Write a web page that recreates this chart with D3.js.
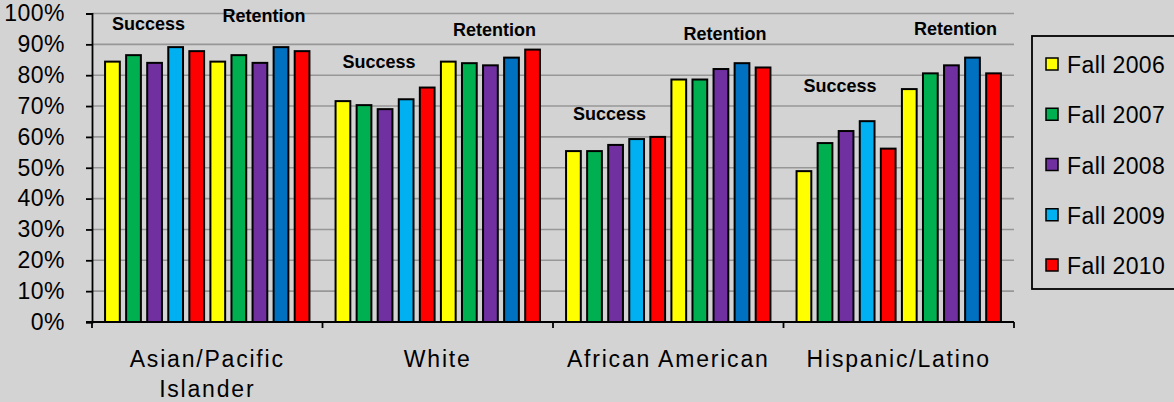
<!DOCTYPE html>
<html>
<head>
<meta charset="utf-8">
<script src="https://cdn.jsdelivr.net/npm/d3@7"></script>
<style>
  html, body { margin: 0; padding: 0; background: #d3d3d3; }
  svg { display: block; font-family: "Liberation Sans", Arial, sans-serif; }
</style>
</head>
<body>
<svg id="chart" width="1174" height="402"></svg>
<script>
// ---- data ----
const categories = ["Asian/Pacific Islander", "White", "African American", "Hispanic/Latino"];
const categoryLines = [["Asian/Pacific", "Islander"], ["White"], ["African American"], ["Hispanic/Latino"]];
const years = ["Fall 2006", "Fall 2007", "Fall 2008", "Fall 2009", "Fall 2010"];
// success rates (%) per category, Fall 2006..2010
const successValues = [
  [84.4, 86.5, 84.0, 89.1, 87.8],
  [71.6, 70.3, 69.0, 72.2, 76.0],
  [55.4, 55.4, 57.4, 59.3, 60.0],
  [48.9, 58.0, 61.9, 65.1, 56.2]
];
// retention rates (%) per category, Fall 2006..2010
const retentionValues = [
  [84.4, 86.5, 84.0, 89.1, 87.8],
  [84.4, 83.9, 83.2, 85.7, 88.3],
  [78.6, 78.6, 82.0, 83.9, 82.5],
  [75.5, 80.6, 83.2, 85.7, 80.6]
];
// heights (in %) at which the group annotations sit
const successLabelAt = [94.8, 82.2, 65.5, 74.4];
const retentionLabelAt = [97.4, 92.6, 91.3, 92.9];
const yTicks = [0, 10, 20, 30, 40, 50, 60, 70, 80, 90, 100];
const successColors = ["#FFFF00", "#00B050", "#7030A0", "#00B0F0", "#FF0000"];
const retentionColors = ["#FFFF00", "#00B050", "#7030A0", "#0070C0", "#FF0000"];

// ---- layout ----
const svg = d3.select("#chart");
const plotLeft = 92, plotRight = 1014, plotTop = 13.5, plotBottom = 322;

const x0 = d3.scaleBand().domain(categories).range([plotLeft, plotRight]).paddingInner(0).paddingOuter(0);
const x1 = d3.scaleBand().domain(d3.range(10)).range([0, x0.bandwidth()]).paddingInner(0.3).paddingOuter(0.62);
const y = d3.scaleLinear().domain([0, 100]).range([plotBottom, plotTop]);

// gridlines
svg.append("g").selectAll("line").data(yTicks.filter(t => t > 0)).join("line")
  .attr("x1", plotLeft).attr("x2", plotRight)
  .attr("y1", d => y(d)).attr("y2", d => y(d))
  .attr("stroke", "#979797").attr("stroke-width", 1.6);

// y axis
const yAxis = svg.append("g").attr("transform", `translate(${plotLeft},0)`)
  .call(d3.axisLeft(y).tickValues(yTicks).tickSize(6).tickPadding(21).tickFormat(d => d + "%"));
yAxis.select(".domain").attr("stroke", "#000").attr("stroke-width", 1.8);
yAxis.selectAll(".tick line").attr("stroke", "#000").attr("stroke-width", 1.8);
yAxis.selectAll(".tick text").attr("fill", "#000").style("font-size", "23px")
  .style("letter-spacing", "0.5px").attr("font-family", "Liberation Sans, Arial, sans-serif");

// bars
const rows = [];
categories.forEach((c, ci) => {
  successValues[ci].forEach((v, i) => rows.push({ c, slot: i, v, color: successColors[i] }));
  retentionValues[ci].forEach((v, i) => rows.push({ c, slot: 5 + i, v, color: retentionColors[i] }));
});
svg.append("g").selectAll("rect").data(rows).join("rect")
  .attr("x", d => x0(d.c) + x1(d.slot))
  .attr("width", x1.bandwidth())
  .attr("y", d => y(d.v))
  .attr("height", d => y(0) - y(d.v))
  .attr("fill", d => d.color)
  .attr("stroke", "#000").attr("stroke-width", 2);

// x axis line and category boundary ticks
svg.append("line").attr("x1", plotLeft - 6).attr("x2", plotRight).attr("y1", y(0)).attr("y2", y(0))
  .attr("stroke", "#000").attr("stroke-width", 1.8);
const bounds = categories.map(c => x0(c)).concat([x0(categories[categories.length - 1]) + x0.bandwidth()]);
svg.append("g").selectAll("line").data(bounds).join("line")
  .attr("x1", d => d).attr("x2", d => d).attr("y1", y(0)).attr("y2", y(0) + 6)
  .attr("stroke", "#000").attr("stroke-width", 1.8);

// category labels
const catG = svg.append("g").selectAll("text").data(categories).join("text")
  .attr("text-anchor", "middle")
  .attr("x", d => x0(d) + x0.bandwidth() / 2)
  .attr("y", 367)
  .style("font-size", "23px").style("letter-spacing", "1.8px").attr("fill", "#000");
catG.each(function (d, i) {
  const t = d3.select(this);
  categoryLines[i].forEach((line, li) => {
    t.append("tspan").attr("x", x0(d) + x0.bandwidth() / 2).attr("dy", li === 0 ? 0 : 30).text(line);
  });
});

// annotations
const sCenter = c => x0(c) + (x1(0) + x1(4) + x1.bandwidth()) / 2 - 6;
const rCenter = c => x0(c) + (x1(5) + x1(9) + x1.bandwidth()) / 2 + 4;
svg.append("g").selectAll("text").data(categories).join("text")
  .attr("text-anchor", "middle").attr("x", d => sCenter(d))
  .attr("y", (d, i) => y(successLabelAt[i]))
  .style("font-size", "18px").style("font-weight", "bold").text("Success");
svg.append("g").selectAll("text").data(categories).join("text")
  .attr("text-anchor", "middle").attr("x", d => rCenter(d))
  .attr("y", (d, i) => y(retentionLabelAt[i]))
  .style("font-size", "18px").style("font-weight", "bold").text("Retention");

// legend
const lg = svg.append("g");
lg.append("rect").attr("x", 1032).attr("y", 36).attr("width", 160).attr("height", 253)
  .attr("fill", "none").attr("stroke", "#000").attr("stroke-width", 1.8);
const ly = d3.scalePoint().domain(years).range([64, 265]);
lg.selectAll("rect.sw").data(years).join("rect").attr("class", "sw")
  .attr("x", 1046).attr("y", d => ly(d) - 6).attr("width", 12).attr("height", 12)
  .attr("fill", (d, i) => successColors[i]).attr("stroke", "#000").attr("stroke-width", 1.5);
lg.selectAll("text").data(years).join("text")
  .attr("x", 1067).attr("y", d => ly(d) + 1).attr("dy", "0.35em")
  .style("font-size", "23px").style("letter-spacing", "0.4px").text(d => d);
</script>
</body>
</html>
